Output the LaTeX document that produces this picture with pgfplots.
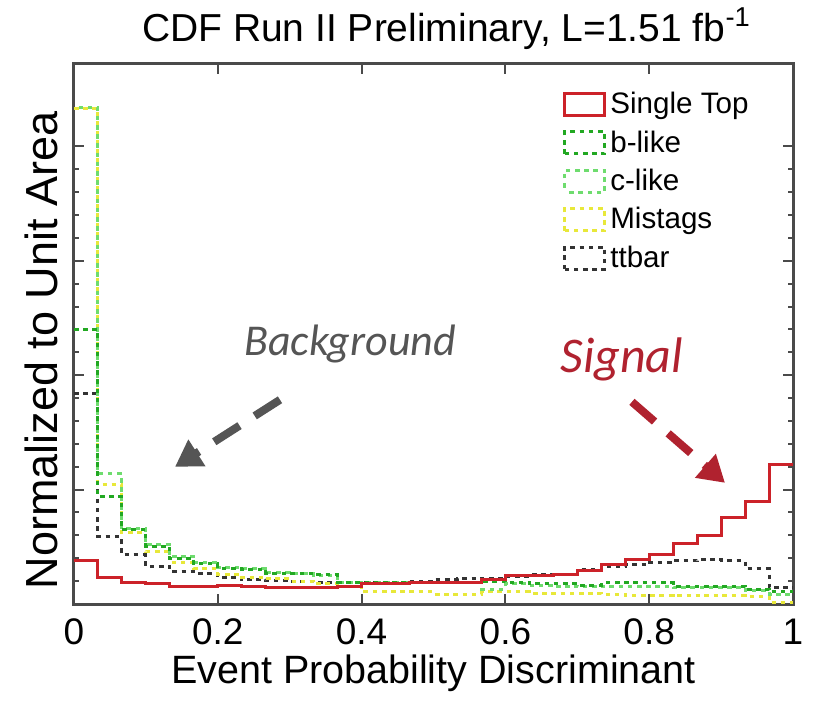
\documentclass[border=0pt]{standalone}
\usepackage{pgfplots}
\pgfplotsset{compat=1.18}
\usepackage{pgfplotstable}
\usetikzlibrary{arrows.meta}
\usepackage{fontspec}
\setmainfont{Liberation Sans}
\newfontfamily\annfont{Carlito}

\definecolor{stred}{HTML}{CC2229}
\definecolor{bgreen}{HTML}{22A822}
\definecolor{cgreen}{HTML}{6EDC6E}
\definecolor{misyel}{HTML}{E8E83A}
\definecolor{ttgray}{HTML}{333333}
\definecolor{axgray}{HTML}{4A4A4A}
\definecolor{bgtext}{HTML}{555555}
\definecolor{sigred}{HTML}{B0222F}

% bin left edge, then Single Top, b-like, c-like, Mistags, ttbar
\pgfplotstableread{
x      st    bl    cl    mis   tt
0.0000 0.376 2.397 4.339 4.330 1.837
0.0333 0.232 0.936 1.137 1.041 0.586
0.0667 0.192 0.647 0.656 0.621 0.429
0.1000 0.175 0.507 0.516 0.455 0.328
0.1333 0.151 0.402 0.411 0.359 0.284
0.1667 0.151 0.350 0.359 0.306 0.267
0.2000 0.160 0.311 0.315 0.262 0.236
0.2333 0.149 0.302 0.306 0.236 0.214
0.2667 0.144 0.271 0.274 0.219 0.206
0.3000 0.144 0.267 0.269 0.201 0.197
0.3333 0.144 0.254 0.245 0.175 0.192
0.3667 0.149 0.192 0.184 0.149 0.192
0.4000 0.175 0.192 0.184 0.105 0.192
0.4333 0.179 0.192 0.184 0.105 0.192
0.4667 0.184 0.192 0.184 0.105 0.197
0.5000 0.184 0.192 0.184 0.087 0.210
0.5333 0.192 0.192 0.184 0.087 0.219
0.5667 0.214 0.201 0.131 0.105 0.227
0.6000 0.245 0.192 0.175 0.105 0.241
0.6333 0.249 0.175 0.166 0.096 0.254
0.6667 0.262 0.175 0.157 0.096 0.262
0.7000 0.297 0.166 0.149 0.096 0.302
0.7333 0.341 0.184 0.157 0.087 0.324
0.7667 0.389 0.184 0.157 0.074 0.341
0.8000 0.437 0.184 0.157 0.074 0.359
0.8333 0.525 0.157 0.140 0.070 0.376
0.8667 0.597 0.157 0.140 0.074 0.385
0.9000 0.752 0.157 0.140 0.070 0.376
0.9333 0.892 0.131 0.114 0.066 0.310
0.9667 1.216 0.105 0.087 0.017 0.140
1.0000 1.216 0.105 0.087 0.017 0.140
}\hist

\tikzset{
  ststy/.style={color=stred, line width=1.5pt, solid},
  blsty/.style={color=bgreen, line width=1.5pt, dash pattern=on 2.3pt off 2.3pt},
  clsty/.style={color=cgreen, line width=1.5pt, dash pattern=on 2.3pt off 2.3pt, dash phase=2.3pt},
  missty/.style={color=misyel, line width=1.5pt, dash pattern=on 2.3pt off 2.3pt},
  ttsty/.style={color=ttgray, line width=1.5pt, dash pattern=on 2.3pt off 2.3pt},
}

\begin{document}
\begin{tikzpicture}
\begin{axis}[
  scale only axis, width=359.5pt, height=270pt,
  xmin=0, xmax=1, ymin=0, ymax=4.72,
  xtick={0,0.2,0.4,0.6,0.8,1},
  ytick={0,1,2,3,4}, minor y tick num=4, yticklabels={},
  major tick length=5pt, minor tick length=2.5pt,
  axis line style={line width=1.5pt, color=axgray},
  every tick/.style={line width=1pt, color=axgray},
  /pgf/number format/assume math mode=true,
  ticklabel style={font=\fontsize{18.5}{20}\selectfont},
  xticklabel style={yshift=-4pt},
  title={CDF Run II Preliminary, L=1.51 fb\textsuperscript{-1}},
  title style={at={(0.5,1)}, anchor=base, yshift=5pt, xshift=6.5pt,
    font=\fontsize{19.5}{21}\selectfont},
  xlabel={Event Probability Discriminant},
  xlabel style={at={(0.5,0)}, anchor=base, yshift=-39.5pt,
    font=\fontsize{19.75}{21}\selectfont},
  ylabel={Normalized to Unit Area},
  ylabel style={at={(-0.0223,0.47)}, anchor=base,
    font=\fontsize{22.5}{24}\selectfont},
  legend image code/.code={\draw[#1] (0pt,-5.5pt) rectangle (20pt,5.5pt);},
  legend style={at={(0.68,0.956)}, anchor=north west, draw=none, fill=none,
    font=\fontsize{14.8}{16}\selectfont, row sep=3pt, inner sep=0pt},
  legend cell align=left,
  clip=false,
]
\addlegendimage{ststy}\addlegendentry{Single Top}
\addlegendimage{blsty}\addlegendentry{b-like}
\addlegendimage{clsty}\addlegendentry{c-like}
\addlegendimage{missty}\addlegendentry{Mistags}
\addlegendimage{ttsty}\addlegendentry{ttbar}

\addplot[ttsty, const plot, forget plot] table[x=x, y=tt] {\hist};
\addplot[missty, const plot, forget plot] table[x=x, y=mis] {\hist};
\addplot[clsty, const plot, forget plot] table[x=x, y=cl] {\hist};
\addplot[blsty, const plot, forget plot] table[x=x, y=bl] {\hist};
\addplot[ststy, const plot, forget plot] table[x=x, y=st] {\hist};

\node[font=\annfont\itshape\fontsize{22}{24}\selectfont, text=bgtext]
  at (axis cs:0.384,2.27) {Background};
\draw[bgtext, line width=4pt, dash pattern=on 15pt off 9pt,
  -{Triangle[length=13pt, width=15pt]}]
  (axis cs:0.2865,1.785) -- (axis cs:0.1405,1.199);
\node[font=\annfont\itshape\fontsize{25}{27}\selectfont, text=sigred]
  at (axis cs:0.762,2.135) {Signal};
\draw[sigred, line width=4pt, dash pattern=on 15pt off 9pt,
  -{Triangle[length=13pt, width=15pt]}]
  (axis cs:0.776,1.767) -- (axis cs:0.9054,1.059);

\coordinate (sw) at (rel axis cs:0,0);
\coordinate (ne) at (rel axis cs:1,1);
\end{axis}
\pgfresetboundingbox
\path ([xshift=-37pt,yshift=-49.5pt]sw) rectangle ([xshift=13.5pt,yshift=32pt]ne);
\end{tikzpicture}
\end{document}
